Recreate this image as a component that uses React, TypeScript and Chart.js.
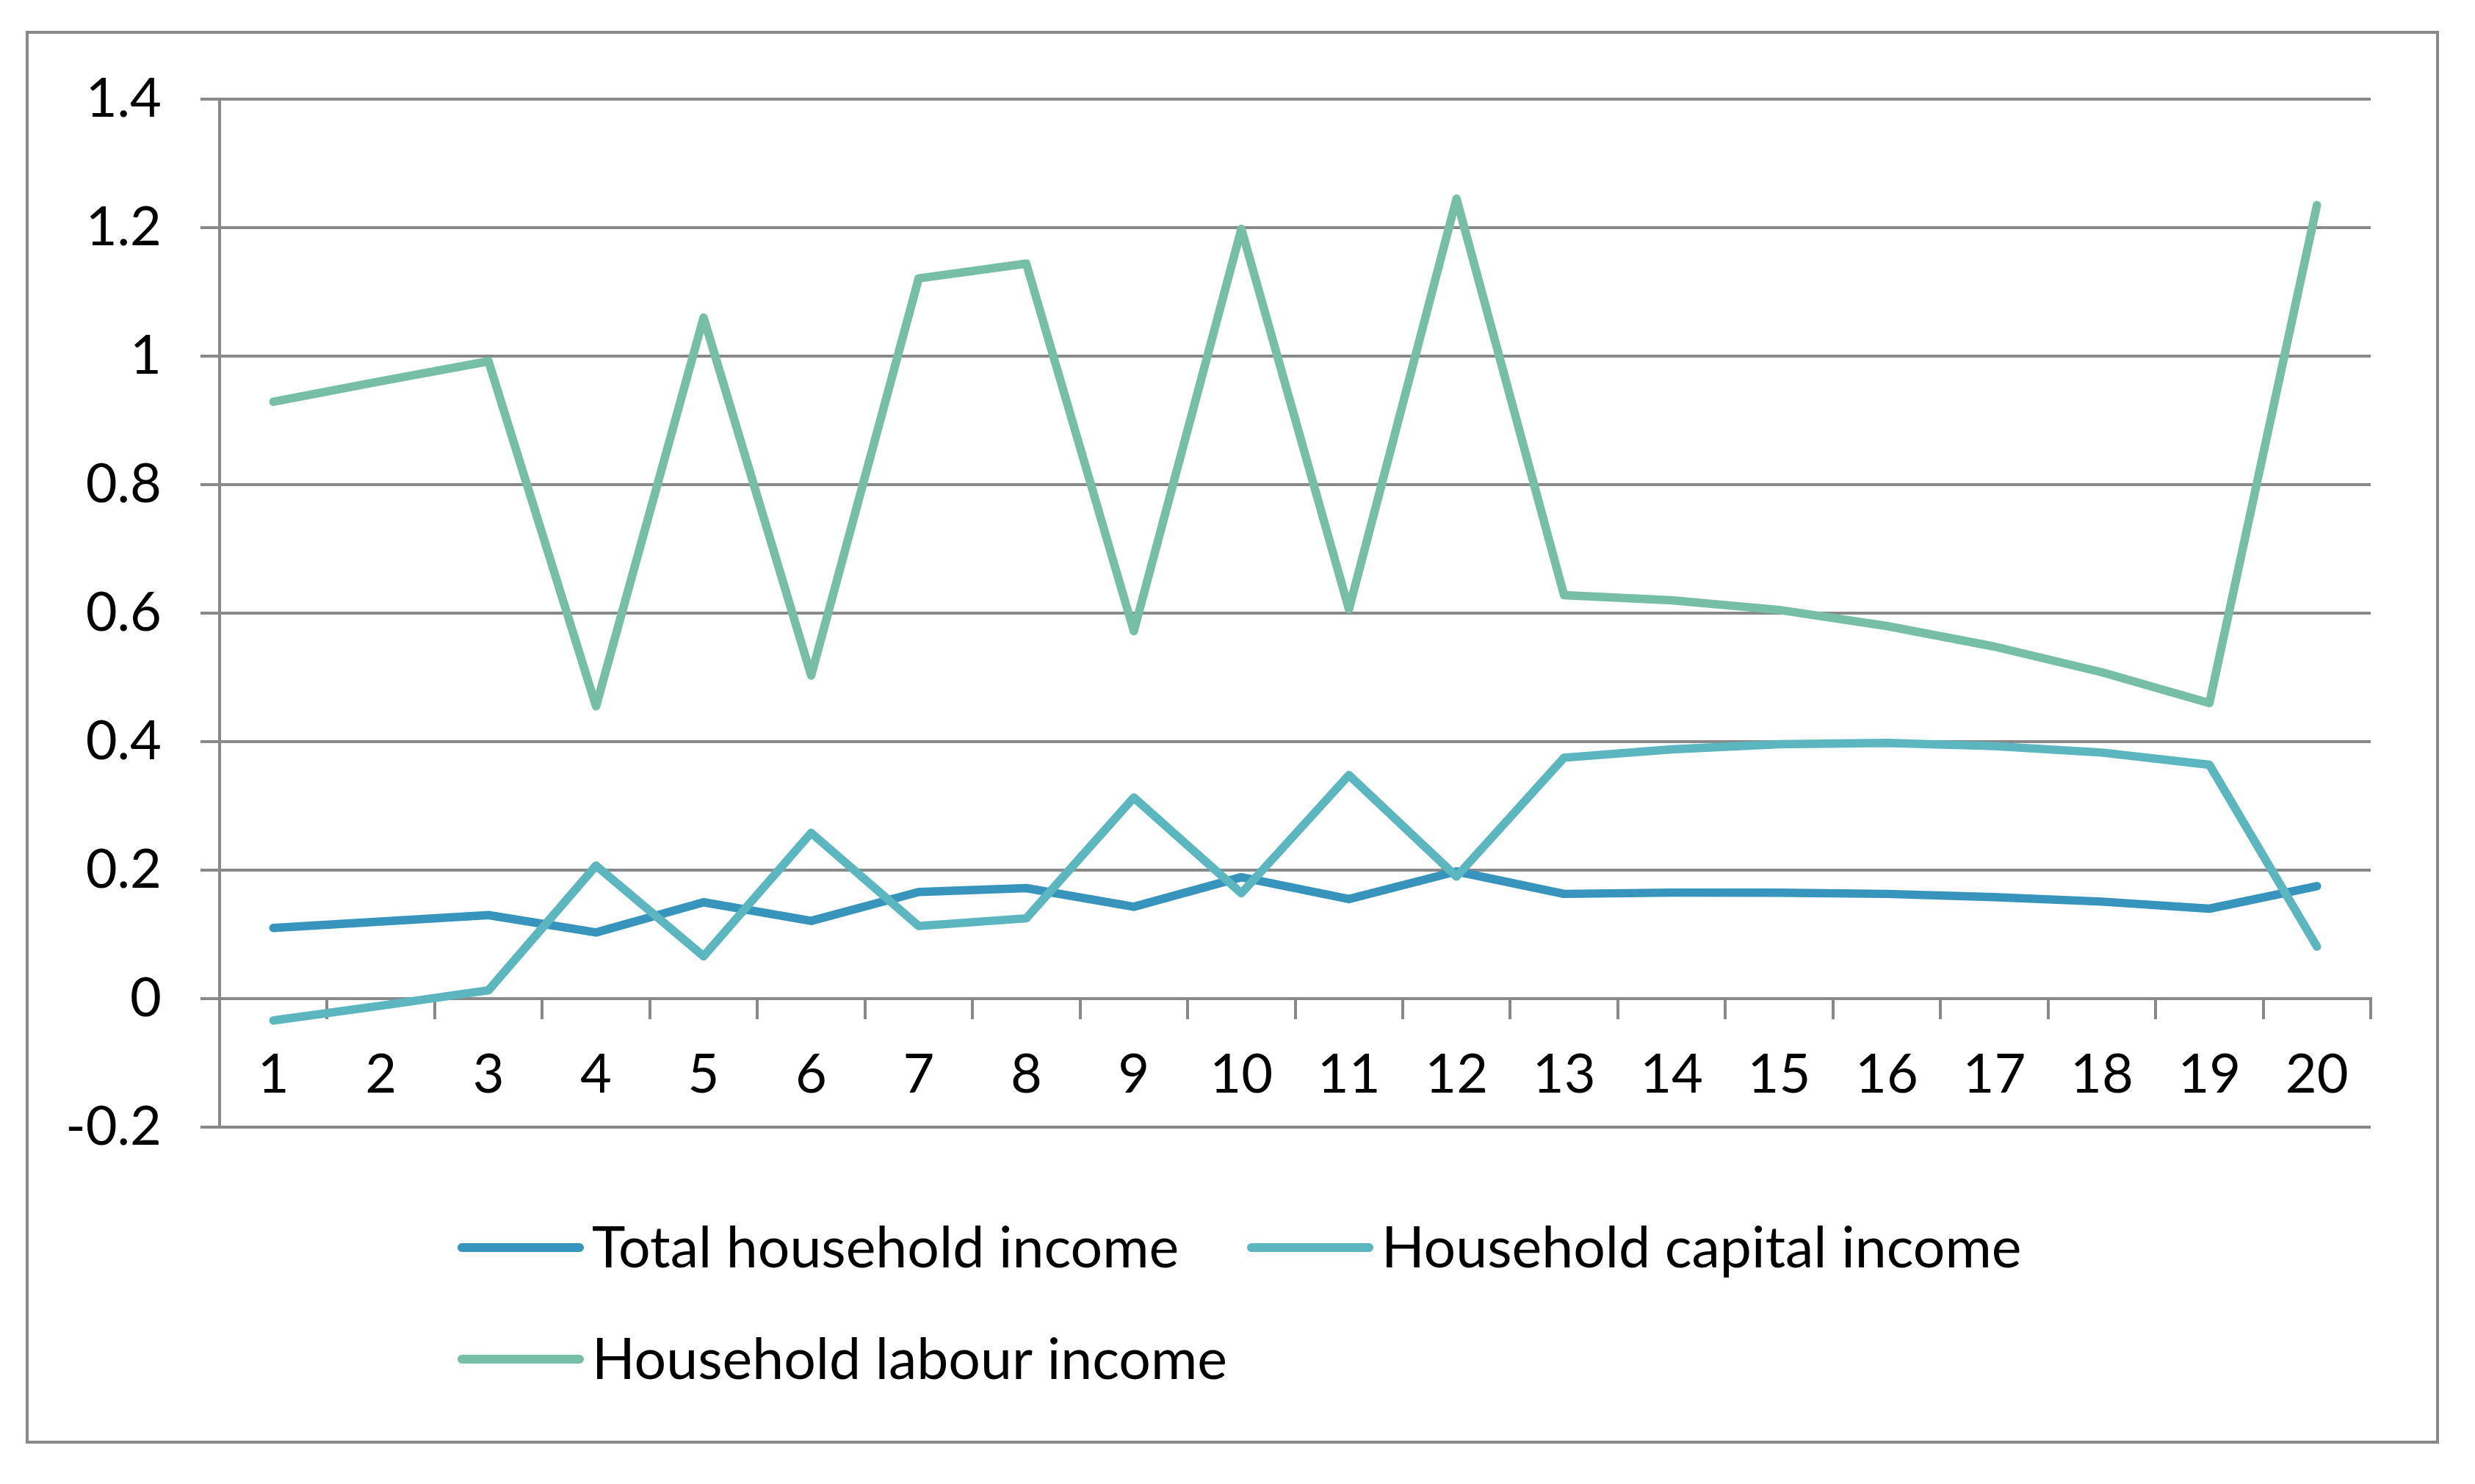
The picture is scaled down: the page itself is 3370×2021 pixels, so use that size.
import React, { useEffect, useRef } from 'react';
import { Chart, registerables } from 'chart.js';

Chart.register(...registerables);

const categories = ['1', '2', '3', '4', '5', '6', '7', '8', '9', '10', '11', '12', '13', '14', '15', '16', '17', '18', '19', '20'];

const totalIncome = [0.110, 0.120, 0.130, 0.103, 0.150, 0.121, 0.166, 0.172, 0.143, 0.189, 0.155, 0.198, 0.163, 0.165, 0.165, 0.163, 0.158, 0.151, 0.140, 0.175];
const capitalIncome = [-0.034, -0.011, 0.013, 0.207, 0.066, 0.258, 0.113, 0.125, 0.313, 0.164, 0.348, 0.190, 0.375, 0.388, 0.396, 0.398, 0.393, 0.383, 0.364, 0.081];
const labourIncome = [0.929, 0.961, 0.992, 0.455, 1.060, 0.503, 1.121, 1.144, 0.572, 1.198, 0.606, 1.245, 0.628, 0.620, 0.605, 0.580, 0.548, 0.508, 0.460, 1.235];

const seriesLabels = ['Total household income', 'Household capital income', 'Household labour income'];
const seriesColors = ['#3794BC', '#5BB6BF', '#77BEA6'];

const yMin = -0.2;
const yMax = 1.4;
const yStep = 0.2;

const W = 3370;
const H = 2021;
const GRAY = '#898989';
const FONT_FAMILY = 'Lato, "Open Sans", sans-serif';
const FONT_SIZE = 74;
const LEGEND_FONT_SIZE = 77;

const frame = {
  id: 'frame',
  beforeDraw(chart: any) {
    const ctx = chart.ctx;
    ctx.save();
    ctx.fillStyle = '#ffffff';
    ctx.fillRect(0, 0, chart.width, chart.height);
    ctx.strokeStyle = GRAY;
    ctx.lineWidth = 4;
    ctx.strokeRect(37, 44, 3319 - 37, 1964 - 44);
    ctx.restore();
  },
};

const legendPlugin = {
  id: 'excelLegend',
  afterDraw(chart: any) {
    const ctx = chart.ctx;
    ctx.save();
    chart.data.datasets.forEach((ds: any, i: number) => {
      const col = i % 2;
      const row = Math.floor(i / 2);
      const x = 623 + col * 1075;
      const y = 1699 + row * 152;
      ctx.strokeStyle = ds.borderColor;
      ctx.lineWidth = 12;
      ctx.lineCap = 'round';
      ctx.beginPath();
      ctx.moveTo(x + 6, y);
      ctx.lineTo(x + 166, y);
      ctx.stroke();
      ctx.fillStyle = '#000000';
      ctx.font = `${LEGEND_FONT_SIZE}px ${FONT_FAMILY}`;
      ctx.textAlign = 'left';
      ctx.textBaseline = 'alphabetic';
      ctx.fillText(ds.label, x + 183, y + 27);
    });
    ctx.restore();
  },
};

export default function App() {
  const canvasRef = useRef<HTMLCanvasElement | null>(null);

  useEffect(() => {
    document.body.style.margin = '0';
    const canvas = canvasRef.current;
    if (!canvas) return;
    const font = { family: FONT_FAMILY, size: FONT_SIZE };
    const values = [totalIncome, capitalIncome, labourIncome];
    const chart = new Chart(canvas, {
      type: 'line',
      data: {
        labels: categories,
        datasets: values.map((v, i) => ({
          label: seriesLabels[i],
          data: v,
          borderColor: seriesColors[i],
          backgroundColor: seriesColors[i],
          borderWidth: 11.5,
          borderCapStyle: 'round',
          borderJoinStyle: 'round',
          pointRadius: 0,
          tension: 0,
          fill: false,
          order: 3 - i,
        })),
      },
      options: {
        animation: false,
        responsive: false,
        devicePixelRatio: 1,
        layout: { padding: { left: 37, top: 135, right: W - 3228, bottom: H - 1535 } },
        plugins: {
          legend: { display: false },
          tooltip: { enabled: false },
          title: { display: false },
        },
        scales: {
          x: {
            type: 'category',
            position: { y: 0 } as any,
            offset: true,
            grid: {
              display: true,
              drawOnChartArea: false,
              drawTicks: true,
              tickLength: 26,
              offset: true,
              color: GRAY,
              lineWidth: 4,
            },
            border: { display: true, color: GRAY, width: 4 },
            ticks: { color: '#000000', font, padding: 34, maxRotation: 0, autoSkip: false },
          },
          y: {
            type: 'linear',
            min: yMin,
            max: yMax,
            afterFit: (s: any) => {
              s.width = 262;
            },
            ticks: {
              stepSize: yStep,
              color: '#000000',
              font,
              padding: 53,
              callback: (v: any) => String(Math.round(Number(v) * 10) / 10),
            },
            grid: { color: GRAY, lineWidth: 4, tickLength: 26, drawTicks: true },
            border: { display: true, color: GRAY, width: 4 },
          },
        },
      } as any,
      plugins: [frame, legendPlugin],
    });
    return () => chart.destroy();
  }, []);

  return (
    <div style={{ width: W, height: H, overflow: 'hidden' }}>
      <canvas ref={canvasRef} width={W} height={H} style={{ display: 'block', width: W, height: H }} />
    </div>
  );
}
